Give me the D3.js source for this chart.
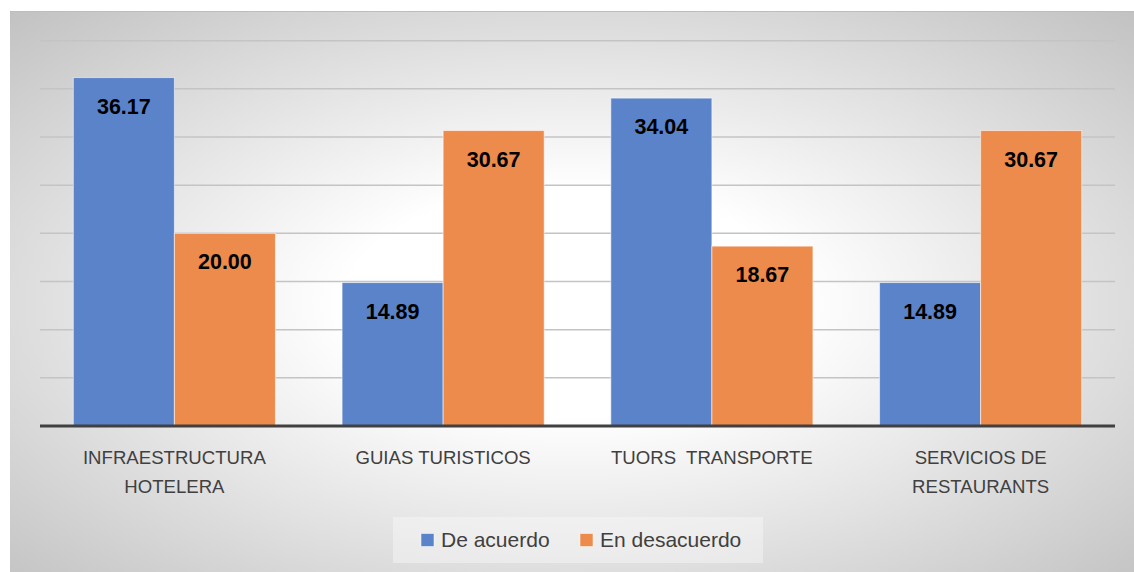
<!DOCTYPE html>
<html><head><meta charset="utf-8">
<script src="https://cdn.jsdelivr.net/npm/d3@7"></script>
<style>
html,body{margin:0;padding:0;background:#fff;}
svg{display:block;}
</style></head>
<body>
<svg id="chart" width="1134" height="572"></svg>
<script>
const categories = ["INFRAESTRUCTURA\nHOTELERA", "GUIAS TURISTICOS", "TUORS  TRANSPORTE", "SERVICIOS DE\nRESTAURANTS"];
const seriesNames = ["De acuerdo", "En desacuerdo"];
const deAcuerdo = [36.17, 14.89, 34.04, 14.89];
const enDesacuerdo = [20.00, 30.67, 18.67, 30.67];
const yTicks = [0, 5, 10, 15, 20, 25, 30, 35, 40];
const colors = ["#5B83CA", "#EC8B4B"];

const seriesValues = [deAcuerdo, enDesacuerdo];
const svg = d3.select("#chart");
const W = 1134, H = 572;

const defs = svg.append("defs");
const grad = defs.append("radialGradient").attr("id", "bg")
  .attr("cx", "50%").attr("cy", "52%").attr("r", "72%")
  .attr("gradientUnits", "objectBoundingBox");
grad.append("stop").attr("offset", "0%").attr("stop-color", "#ffffff");
grad.append("stop").attr("offset", "28%").attr("stop-color", "#ffffff");
grad.append("stop").attr("offset", "100%").attr("stop-color", "#c2c2c2");

svg.append("rect").attr("x", 10).attr("y", 11).attr("width", W - 10).attr("height", H - 11)
  .attr("fill", "url(#bg)");
svg.append("line").attr("x1", 10).attr("x2", W).attr("y1", 11.5).attr("y2", 11.5)
  .attr("stroke", "#bdbdbd").attr("stroke-width", 1.2);

const x0 = d3.scaleBand().domain(categories).range([40, 1115]).paddingInner(0.248).paddingOuter(0.124);
const x1 = d3.scaleBand().domain(seriesNames).range([0, x0.bandwidth()]);
const y = d3.scaleLinear().domain([0, 40]).range([426, 40.7]);

// gridlines
svg.append("g").selectAll("line").data(yTicks.filter(d => d > 0)).join("line")
  .attr("x1", 40).attr("x2", 1115)
  .attr("y1", d => y(d)).attr("y2", d => y(d))
  .attr("stroke", "#c4c4c4").attr("stroke-width", 1.5);

// bars
const groups = svg.append("g").selectAll("g").data(categories).join("g")
  .attr("transform", d => `translate(${x0(d)},0)`);

groups.each(function(cat, i) {
  const g = d3.select(this);
  seriesNames.forEach((s, j) => {
    const v = seriesValues[j][i];
    g.append("rect")
      .attr("x", x1(s)).attr("width", x1.bandwidth())
      .attr("y", y(v)).attr("height", y(0) - y(v))
      .attr("fill", colors[j])
      .attr("stroke", "rgba(255,255,255,0.55)").attr("stroke-width", 1);
    g.append("text")
      .attr("x", x1(s) + x1.bandwidth() / 2)
      .attr("y", y(v) + 36)
      .attr("text-anchor", "middle")
      .attr("font-family", "'Liberation Sans', Arial, sans-serif")
      .attr("font-weight", "bold")
      .attr("font-size", 21.5)
      .attr("fill", "#000")
      .text(v.toFixed(2));
  });
});

// baseline axis
const xAxis = svg.append("g").attr("transform", `translate(0,${y(0)})`)
  .call(d3.axisBottom(x0).tickSize(0).tickFormat(""));
xAxis.select(".domain").attr("d", "M40,0H1115").attr("stroke", "#404040").attr("stroke-width", 3);

// category labels
svg.append("g").selectAll("text").data(categories).join("text")
  .attr("text-anchor", "middle")
  .attr("font-family", "'Liberation Sans', Arial, sans-serif")
  .attr("font-size", 18.6)
  .attr("fill", "#404040")
  .attr("xml:space", "preserve")
  .style("white-space", "pre")
  .each(function(d) {
    const t = d3.select(this);
    d.split("\n").forEach((line, k) => {
      t.append("tspan").attr("x", x0(d) + x0.bandwidth() / 2).attr("y", 464 + k * 29).text(line);
    });
  });

// legend
const legend = svg.append("g");
legend.append("rect").attr("x", 393).attr("y", 517).attr("width", 370).attr("height", 46)
  .attr("fill", "#f8f8f8").attr("opacity", 0.45);
const legX = [421, 580];
seriesNames.forEach((s, j) => {
  legend.append("rect").attr("x", legX[j]).attr("y", 533.5).attr("width", 13).attr("height", 13)
    .attr("fill", colors[j]).attr("stroke", "rgba(255,255,255,0.5)").attr("stroke-width", 1);
  legend.append("text").attr("x", legX[j] + 20).attr("y", 546.5)
    .attr("font-family", "'Liberation Sans', Arial, sans-serif")
    .attr("font-size", 21).attr("fill", "#404040").text(s);
});
</script>
</body></html>
